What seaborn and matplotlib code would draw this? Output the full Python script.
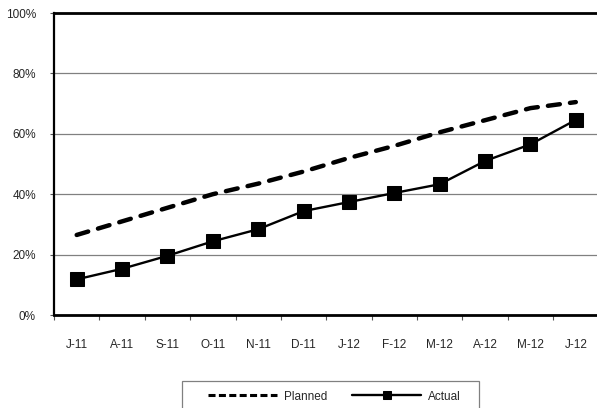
import numpy as np
import pandas as pd
import matplotlib
matplotlib.use("Agg")
import matplotlib.pyplot as plt
import seaborn as sns
from matplotlib.ticker import FuncFormatter
from matplotlib.patches import Rectangle

months = ["J-11", "A-11", "S-11", "O-11", "N-11", "D-11",
          "J-12", "F-12", "M-12", "A-12", "M-12", "J-12"]
planned = [26.5, 31.0, 35.5, 40.0, 43.5, 47.5, 52.0, 56.0, 60.5, 64.5, 68.5, 70.5]
actual = [11.8, 15.3, 19.6, 24.4, 28.4, 34.4, 37.4, 40.4, 43.3, 51.0, 56.5, 64.6]
y_ticks = [0, 20, 40, 60, 80, 100]

sns.set_style("white")
plt.rcParams["font.family"] = ["Liberation Sans", "DejaVu Sans"]
FS = 8.5
plt.rcParams["font.size"] = FS
em = FS * 100 / 72  # pixels per font unit

pos = np.arange(len(months))
df = pd.DataFrame({"pos": pos, "Planned": planned, "Actual": actual})

fig = plt.figure(figsize=(5.97, 4.08), dpi=100)
ax = fig.add_axes([54 / 597, 1 - 315 / 408, (598.5 - 54) / 597, (315 - 13) / 408])

sns.lineplot(data=df, x="pos", y="Planned", ax=ax, color="black", lw=3.2,
             linestyle=(0, (2.7, 2.3)), dash_capstyle="round", label="Planned",
             zorder=3)
sns.lineplot(data=df, x="pos", y="Actual", ax=ax, color="black", lw=1.7,
             marker="s", markersize=10, markeredgecolor="black",
             markerfacecolor="black", label="Actual", zorder=4)

ax.set_xlim(-0.5, len(months) - 0.5)
ax.set_ylim(0, 100)
ax.set_yticks(y_ticks)
ax.yaxis.set_major_formatter(FuncFormatter(lambda v, p: f"{v:.0f}%"))
ax.set_xticks(pos)
ax.set_xticklabels(months)
ax.set_xticks(np.arange(-0.5, len(months), 1), minor=True)
ax.tick_params(axis="x", which="major", length=0, pad=17, labelsize=FS)
ax.tick_params(axis="x", which="minor", length=3.5, width=0.8, color="#555555",
               direction="out", bottom=True)
ax.tick_params(axis="y", which="major", length=3, width=0.8, color="#555555",
               direction="out", left=True, pad=10, labelsize=FS)
ax.set_xlabel("")
ax.set_ylabel("")

ax.yaxis.grid(True, color="#808080", lw=0.9)
ax.xaxis.grid(False)
ax.set_axisbelow(True)

for side in ["left", "bottom", "top"]:
    ax.spines[side].set_visible(True)
    ax.spines[side].set_color("black")
ax.spines["left"].set_linewidth(1.6)
ax.spines["bottom"].set_linewidth(2.0)
ax.spines["top"].set_linewidth(2.0)
ax.spines["right"].set_visible(False)

handles, labels = ax.get_legend_handles_labels()
ax.get_legend().remove()
leg = fig.legend(handles, labels, loc="center left", ncol=2,
                 bbox_to_anchor=(208 / 597, 1 - 396.5 / 408),
                 frameon=False, handlelength=69 / em, handletextpad=7 / em,
                 columnspacing=25 / em, borderpad=0, fontsize=FS,
                 borderaxespad=0)
for h in leg.legend_handles:
    if h.get_marker() == "s":
        h.set_markersize(5.5)
        h.set_linewidth(1.7)
    else:
        h.set_linewidth(2.2)
        h.set_dashes((2.3, 1.1))
        h.set_dash_capstyle("butt")

fig.patches.append(Rectangle((182 / 597, -0.05), (479 - 182) / 597, (408 - 381) / 408 + 0.05,
                             transform=fig.transFigure, fill=False,
                             edgecolor="#808080", lw=0.9))

fig.savefig("out.png", dpi=100)
